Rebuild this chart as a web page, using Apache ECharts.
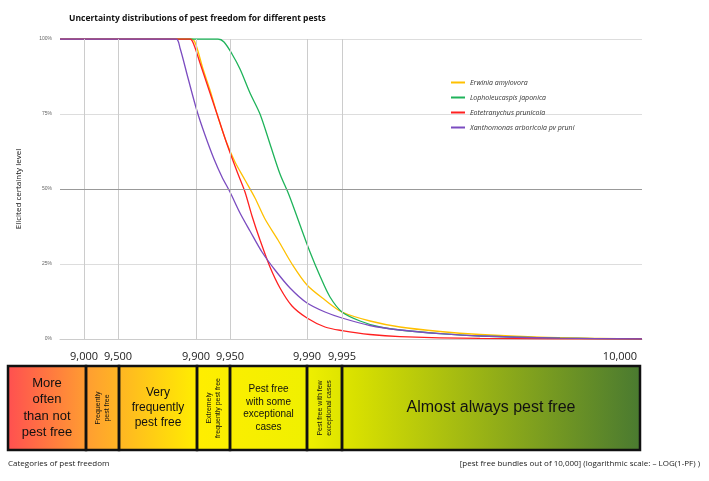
<!DOCTYPE html><html><head><meta charset="utf-8"><script src="https://cdn.jsdelivr.net/npm/echarts@6/dist/echarts.min.js"></script></head><body style="margin:0"><div id="c" style="width:709px;height:481px"></div><script>
const seriesNames=['Erwinia amylovora','Lopholeucaspis japonica','Eotetranychus prunicola','Xanthomonas arboricola pv pruni'];
const colors=['#ffc000','#1fb35a','#ff2020','#7b4cc0'];
const yellowData=[[60,100],[192,100],[196,98],[203,90],[210,83],[218,74],[226,66],[235,59],[245,53],[255,47],[265,40],[278,33],[292,25],[307,18],[325,13],[342,9],[370,6],[400,4],[440,2.5],[480,1.5],[540,0.6],[600,0.2],[642,0]];
const greenData=[[60,100],[218,100],[224,99],[232,95],[240,90],[250,82],[260,75],[270,65],[280,55],[289,48],[300,38],[310,29],[320,21],[330,14],[342,9],[360,6],[380,4],[400,3],[440,1.8],[480,1],[560,0.3],[642,0]];
const redData=[[60,100],[190,100],[194,98],[200,92],[208,84],[218,74],[228,64],[238,55],[245,49],[252,41],[260,33],[270,24],[280,17],[292,11],[307,7],[325,4],[342,2.8],[370,1.5],[400,0.8],[480,0.2],[642,0]];
const purpleData=[[60,100],[176,100],[180,97],[188,87],[197,76],[205,68],[214,60],[222,54],[230,49],[240,42],[250,36],[262,29],[275,23],[290,17],[307,12],[325,9],[342,7],[370,4.5],[400,3],[440,1.8],[480,1],[560,0.3],[642,0]];
const gridPos=[84,118,196,230,307,342];
const tickLabels=['9,000','9,500','9,900','9,950','9,990','9,995'];
const boxes=[[8,86,'More\noften\nthan not\npest free',13,0],[86,119,'Frequently\npest free',7,90],[119,197,'Very\nfrequently\npest free',12,0],[197,230,'Extremely\nfrequently pest free',7,90],[230,307,'Pest free\nwith some\nexceptional\ncases',10,0],[307,342,'Pest free with few\nexceptional cases',7,90],[342,640,'Almost always pest free',16,0]];
const all=[yellowData,greenData,redData,purpleData];
const ch=echarts.init(document.getElementById('c'));
const g=[];
g.push({type:'rect',shape:{x:8,y:366,width:632,height:84},style:{fill:new echarts.graphic.LinearGradient(0,0,1,0,[{offset:0,color:'#ff5050'},{offset:0.13,color:'#ffa030'},{offset:0.3,color:'#ffee00'},{offset:0.47,color:'#f0f000'},{offset:0.55,color:'#d8e000'},{offset:1,color:'#4a7a30'}])}});
boxes.forEach(b=>{g.push({type:'rect',shape:{x:b[0],y:366,width:b[1]-b[0],height:84},style:{fill:'none',stroke:'#111',lineWidth:2.5}});
 g.push({type:'text',x:(b[0]+b[1])/2,y:408,rotation:b[4]?Math.PI/2:0,style:{text:b[2],fontSize:b[3],fill:'#111',align:'center',verticalAlign:'middle',font:b[3]+'px Open Sans',lineHeight:b[3]*1.25}});});
gridPos.forEach((p,i)=>g.push({type:'text',x:p,y:357,style:{text:tickLabels[i],fontSize:11,fill:'#222',align:'center',verticalAlign:'middle',fontFamily:'Open Sans'}}));
g.push({type:'text',x:620,y:357,style:{text:'10,000',fontSize:11,fill:'#222',align:'center',verticalAlign:'middle',fontFamily:'Open Sans'}});
g.push({type:'text',x:8,y:460,style:{text:'Categories of pest freedom',fontSize:8,fill:'#222',fontFamily:'Open Sans'}});
g.push({type:'text',x:700,y:460,style:{text:'[pest free bundles out of 10,000] (logarithmic scale: – LOG(1-PF) )',fontSize:8,fill:'#222',align:'right',fontFamily:'Open Sans'}});
ch.setOption({animation:false,
title:{text:'Uncertainty distributions of pest freedom for different pests',left:64,top:9,textStyle:{fontSize:8.5,fontWeight:'bold',color:'#111',fontFamily:'Open Sans'}},
legend:{orient:'vertical',left:446,top:74,itemWidth:14,itemHeight:2,itemGap:8,icon:'rect',textStyle:{fontSize:7,fontStyle:'italic',color:'#333',fontFamily:'Open Sans'}},
grid:{left:60,right:67,top:39,bottom:142},
xAxis:{type:'value',min:60,max:642,axisLabel:{show:false},axisTick:{show:false},axisLine:{lineStyle:{color:'#ccc'}},splitLine:{show:false}},
yAxis:{type:'value',min:0,max:100,interval:25,name:'Elicited certainty level',nameLocation:'middle',nameGap:37,nameTextStyle:{fontSize:8,color:'#111',fontFamily:'Open Sans'},axisLabel:{formatter:'{value}%',fontSize:5,color:'#666'},axisLine:{show:false},axisTick:{show:false},splitLine:{lineStyle:{color:'#ddd'}}},
series:[...seriesNames.map((n,i)=>({name:n,type:'line',smooth:0.3,showSymbol:false,data:all[i],lineStyle:{width:1.3,color:colors[i]},itemStyle:{color:colors[i]},z:3})),
{type:'line',data:[],markLine:{symbol:'none',silent:true,label:{show:false},data:[...gridPos.map(p=>({xAxis:p})),{yAxis:50,lineStyle:{color:'#999',width:1.2}}],lineStyle:{color:'#ccc',type:'solid',width:1}}}],
graphic:g});
</script></body></html>
